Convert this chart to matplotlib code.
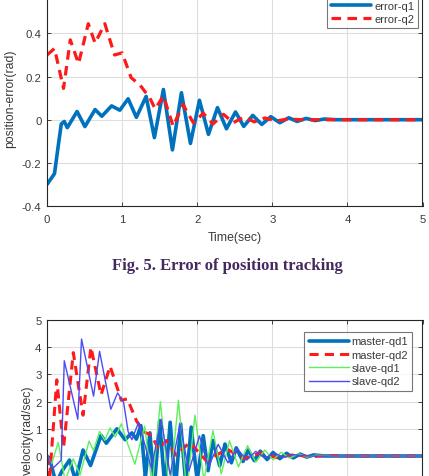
import matplotlib
matplotlib.use("Agg")
import matplotlib.pyplot as plt

# ---------------- data ----------------
# Fig. 5 : position errors
t_e1 = [0, 0.10, 0.15, 0.19, 0.23, 0.27, 0.40, 0.505, 0.64, 0.73, 0.86, 0.97, 1.08,
        1.19, 1.32, 1.43, 1.55, 1.67, 1.79, 1.91, 2.03, 2.15, 2.27, 2.39, 2.51, 2.62,
        2.74, 2.86, 2.98, 3.10, 3.22, 3.33, 3.45, 3.57, 3.69, 3.85, 4.2, 5.0]
err_q1 = [-0.30, -0.25, -0.12, -0.02, -0.008, -0.037, 0.038, -0.032, 0.047, 0.016,
          0.064, 0.044, 0.097, 0.011, 0.108, -0.083, 0.14, -0.14, 0.125, -0.11, 0.09,
          -0.068, 0.056, -0.042, 0.036, -0.031, 0.02, -0.022, 0.014, -0.014, 0.009,
          -0.008, 0.006, -0.004, 0.003, 0.0, 0.0, 0.0]

t_e2 = [0, 0.10, 0.22, 0.31, 0.42, 0.55, 0.64, 0.77, 0.90, 1.00, 1.12, 1.24, 1.37,
        1.44, 1.55, 1.68, 1.81, 1.95, 2.08, 2.21, 2.35, 2.48, 2.62, 2.76, 2.90, 3.05,
        3.20, 3.40, 5.0]
err_q2 = [0.30, 0.33, 0.145, 0.37, 0.26, 0.445, 0.355, 0.445, 0.30, 0.31, 0.195,
          0.16, 0.10, 0.05, 0.11, -0.03, 0.07, -0.015, 0.03, -0.02, 0.025, -0.014,
          0.012, -0.01, 0.008, -0.006, 0.003, 0.0, 0.0]

# Velocities
t_m1 = [0, 0.04, 0.12, 0.20, 0.30, 0.38, 0.48, 0.58, 0.72, 0.79, 0.93, 1.04, 1.13,
        1.19, 1.25, 1.31, 1.37, 1.43, 1.50, 1.57, 1.64, 1.71, 1.78, 1.85, 1.92, 2.00,
        2.08, 2.145, 2.21, 2.30, 2.37, 2.455, 2.52, 2.61, 2.68, 2.76, 2.84, 2.93, 3.01,
        3.10, 3.19, 3.28, 3.37, 3.46, 3.55, 3.70, 3.90, 5.0]
master_qd1 = [0, -0.15, -1.0, -0.55, -0.15, -0.9, 0.22, -0.35, 0.76, 0.47, 1.0, 0.6,
              0.85, 0.62, 1.12, -0.8, 0.85, -1.1, 1.3, -1.2, 1.24, -1.2, 1.18, -1.1,
              1.06, -0.9, 0.75, -0.54, 0.57, -0.36, 0.44, -0.25, 0.30, -0.20, 0.22,
              -0.17, 0.18, -0.13, 0.13, -0.10, 0.10, -0.07, 0.07, -0.04, 0.04, 0.0,
              0.0, 0.0]

t_m2 = [0, 0.035, 0.13, 0.22, 0.35, 0.48, 0.585, 0.72, 0.84, 0.99, 1.07, 1.19, 1.28,
        1.40, 1.48, 1.59, 1.72, 1.90, 2.12, 2.40, 2.62, 2.85, 3.05, 3.30, 3.50, 3.75,
        4.0, 5.0]
master_qd2 = [0, -0.8, 2.8, 0.3, 3.8, 1.5, 4.0, 2.25, 3.3, 2.05, 2.1, 1.3, 0.9, 0.75,
              0.25, 0.57, 0.03, 0.5, -0.17, 0.25, -0.1, 0.12, -0.06, 0.05, -0.03,
              0.02, 0.0, 0.0]

t_s1 = [0, 0.06, 0.15, 0.24, 0.35, 0.44, 0.56, 0.62, 0.70, 0.77, 0.84, 0.91, 0.99,
        1.08, 1.17, 1.30, 1.40, 1.51, 1.63, 1.75, 1.86, 1.97, 2.09, 2.21, 2.32, 2.43,
        2.55, 2.67, 2.78, 2.90, 3.01, 3.12, 3.23, 3.35, 3.46, 3.58, 3.80, 5.0]
slave_qd1 = [0, -0.3, 0.5, -0.9, -0.1, -0.7, 0.55, 0.2, 0.9, 0.57, 1.03, 0.7, 1.18,
             0.4, -0.3, 1.1, -1.1, 2.0, -1.4, 2.05, -1.3, 1.5, -0.9, 0.93, -0.66,
             0.56, -0.4, 0.38, -0.23, 0.22, -0.14, 0.14, -0.08, 0.08, -0.04, 0.03,
             0.0, 0.0]

t_s2 = [0, 0.08, 0.19, 0.23, 0.41, 0.46, 0.62, 0.70, 0.85, 0.94, 1.02, 1.08, 1.13,
        1.22, 1.39, 1.52, 1.64, 1.77, 1.89, 2.03, 2.15, 2.28, 2.41, 2.53, 2.66, 2.78,
        2.90, 3.03, 3.15, 3.28, 3.45, 3.70, 5.0]
slave_qd2 = [0, -0.45, -0.15, 3.5, 1.35, 4.3, 2.2, 3.85, 1.72, 2.32, 1.97, 0.9, 0.6,
             1.24, -0.45, 1.35, -0.7, 1.17, -0.55, 0.74, -0.4, 0.43, -0.25, 0.28,
             -0.15, 0.17, -0.08, 0.10, -0.04, 0.05, 0.0, 0.0, 0.0]

xticks = [0, 1, 2, 3, 4, 5]
yticks_top = [-0.4, -0.2, 0, 0.2, 0.4]
ytick_labels_top = ["-0.4", "-0.2", "0", "0.2", "0.4"]
yticks_bot = [0, 1, 2, 3, 4, 5]

caption = "Fig. 5. Error of position tracking"

# ---------------- styling ----------------
plt.rcParams['font.family'] = ['Liberation Sans', 'DejaVu Sans']
W, H = 429, 477
fig = plt.figure(figsize=(W / 100, H / 100), dpi=100)
fig.patch.set_facecolor('white')

BLUE = '#0072BD'
RED = '#FF1A1A'
GREEN = '#5CF05C'
VIOLET = '#4B4BF5'
AX_COL = '#262626'
TXT_COL = '#3a3a3a'


def px_axes(left, right, top_px, bottom_px):
    return [left / W, 1 - bottom_px / H, (right - left) / W, (bottom_px - top_px) / H]


def style(ax):
    ax.set_xlim(0, 5)
    ax.set_xticks(xticks)
    ax.grid(True, color='#dedede', linewidth=0.8)
    ax.set_axisbelow(True)
    for s in ax.spines.values():
        s.set_color(AX_COL)
        s.set_linewidth(0.8)
    ax.tick_params(direction='in', length=3, width=0.6, top=True, right=True,
                   labelsize=8.2, colors=AX_COL, labelcolor=TXT_COL)
    ax.tick_params(axis='x', pad=6)
    ax.tick_params(axis='y', pad=4)


# top axes: ylim -0.4..0.6, y=-0.4 at 207px, 0 at 120.3px
ax1 = fig.add_axes(px_axes(47, 422.5, 207 - 215.75, 207))
style(ax1)
ax1.set_ylim(-0.4, 0.6)
ax1.set_yticks(yticks_top)
ax1.set_yticklabels(ytick_labels_top)
ax1.plot(t_e1, err_q1, color=BLUE, lw=2.6, label='error-q1',
         solid_joinstyle='round', solid_capstyle='round')
ax1.plot(t_e2, err_q2, color=RED, lw=2.3, ls=(0, (3, 2)), label='error-q2')
ax1.set_xlabel('Time(sec)', fontsize=8.8, color=TXT_COL, labelpad=5)
ax1.set_ylabel('position-error(rad)', fontsize=8.8, color=TXT_COL, labelpad=4)
leg1 = ax1.legend(loc='lower right',
                  bbox_to_anchor=((418 - 47) / 375.5, (207 - 29) / 215.75),
                  borderaxespad=0, fontsize=8, frameon=True, fancybox=False,
                  handlelength=3.6, handletextpad=0.25, labelspacing=0.32,
                  borderpad=0.35)
leg1.get_frame().set_edgecolor('#555555')
leg1.get_frame().set_linewidth(0.8)
for tx in leg1.get_texts():
    tx.set_color(TXT_COL)

# bottom axes: ylim -3..5, 5 at 321px, 0 at 457px (lower part lies below the picture)
ax2 = fig.add_axes(px_axes(47, 422.5, 321, 321 + 8 * 27.2))
style(ax2)
ax2.set_ylim(-3, 5)
ax2.set_yticks(yticks_bot)
ax2.yaxis.set_minor_locator(matplotlib.ticker.FixedLocator([-1, -2]))
ax2.grid(True, which='minor', axis='y', color='#dedede', linewidth=0.8)
ax2.tick_params(which='minor', length=0)
ax2.tick_params(axis='x', labelbottom=False)
ax2.plot(t_m1, master_qd1, color=BLUE, lw=2.6, label='master-qd1',
         solid_joinstyle='round', solid_capstyle='round')
ax2.plot(t_m2, master_qd2, color=RED, lw=2.2, ls=(0, (3, 2)), label='master-qd2')
ax2.plot(t_s1, slave_qd1, color=GREEN, lw=1.0, label='slave-qd1')
ax2.plot(t_s2, slave_qd2, color=VIOLET, lw=1.0, label='slave-qd2')
ax2.set_ylabel('velocity(rad/sec)', fontsize=8.8, color=TXT_COL, labelpad=1)
leg2 = ax2.legend(loc='upper right', bbox_to_anchor=(1 - 10 / 375.5, 1 - 12 / 217.6),
                  borderaxespad=0, fontsize=8, frameon=True, fancybox=False,
                  handlelength=3.6, handletextpad=0.25, labelspacing=0.3,
                  borderpad=0.4)
leg2.get_frame().set_edgecolor('#555555')
leg2.get_frame().set_linewidth(0.8)
for tx in leg2.get_texts():
    tx.set_color(TXT_COL)

fig.text(227 / W, 1 - 266 / H, caption, ha='center', va='center',
         fontsize=12, fontweight='bold', family=['Liberation Serif', 'DejaVu Serif'],
         color='#45285e')

fig.savefig('out.png', dpi=100, facecolor='white')
